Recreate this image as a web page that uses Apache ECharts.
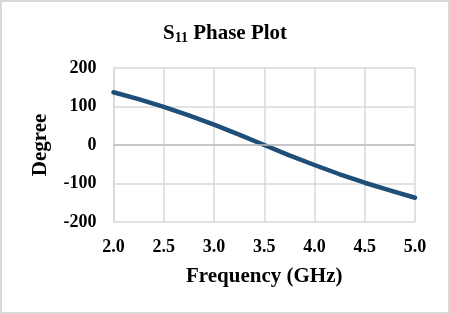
<!DOCTYPE html>
<html>
<head>
<meta charset="utf-8">
<script src="https://cdn.jsdelivr.net/npm/echarts@6/dist/echarts.min.js"></script>
<style>
html,body{margin:0;padding:0;background:#fff;}
#c{width:450px;height:314px;}
</style>
</head>
<body>
<div id="c"></div>
<script>
const frequency = [2.0, 2.25, 2.5, 2.75, 3.0, 3.25, 3.5, 3.75, 4.0, 4.25, 4.5, 4.75, 5.0];
const phase = [137, 119, 99, 77, 53, 27, 0, -27, -52, -76, -98, -118, -137];
const xTicks = { min: 2.0, max: 5.0, interval: 0.5 };
const yTicks = { min: -200, max: 200, interval: 100 };

const FONT = "'Liberation Serif','Times New Roman',serif";
const chart = echarts.init(document.getElementById('c'), null, {renderer: 'canvas'});
chart.setOption({
  animation: false,
  backgroundColor: '#fff',
  graphic: [{
    type: 'rect', shape: {x: 1, y: 1, width: 448, height: 312},
    style: {fill: 'none', stroke: '#d9d9d9', lineWidth: 2}, silent: true
  }],
  title: {
    text: '{m|S}{s|11}{m| Phase Plot}',
    left: 'center', top: 17,
    textStyle: {
      rich: {
        m: {fontFamily: FONT, fontWeight: 'bold', fontSize: 21, color: '#000'},
        s: {fontFamily: FONT, fontWeight: 'bold', fontSize: 14, color: '#000', verticalAlign: 'bottom', padding: [9, 0, 0, 0]}
      }
    }
  },
  grid: {left: 113.5, right: 35, top: 68, bottom: 92},
  xAxis: {
    type: 'value', min: xTicks.min, max: xTicks.max, interval: xTicks.interval,
    name: 'Frequency (GHz)', nameLocation: 'middle', nameGap: 44,
    nameTextStyle: {fontFamily: FONT, fontWeight: 'bold', fontSize: 21, color: '#000'},
    axisLine: {show: true, lineStyle: {color: '#d9d9d9', width: 1.5}},
    axisTick: {show: false},
    splitLine: {show: true, lineStyle: {color: '#d9d9d9', width: 1.5}},
    axisLabel: {fontFamily: FONT, fontWeight: 'bold', fontSize: 18, color: '#000', margin: 16,
      formatter: v => v.toFixed(1)}
  },
  yAxis: {
    type: 'value', min: yTicks.min, max: yTicks.max, interval: yTicks.interval,
    name: 'Degree', nameLocation: 'middle', nameGap: 62, nameRotate: 90,
    nameTextStyle: {fontFamily: FONT, fontWeight: 'bold', fontSize: 21, color: '#000'},
    axisLine: {show: true, lineStyle: {color: '#d9d9d9', width: 1.5}},
    axisTick: {show: false},
    splitLine: {show: true, lineStyle: {color: '#d9d9d9', width: 1.5}},
    axisLabel: {fontFamily: FONT, fontWeight: 'bold', fontSize: 18, color: '#000', margin: 17}
  },
  series: [{
    type: 'line',
    data: frequency.map((f, i) => [f, phase[i]]),
    smooth: false,
    showSymbol: false,
    lineStyle: {color: '#1f4e79', width: 4.5, join: 'round', cap: 'round'},
    markLine: {
      silent: true, symbol: 'none', label: {show: false},
      lineStyle: {color: '#bfbfbf', width: 1.5, type: 'solid'},
      data: [{yAxis: 0}]
    },
    z: 3
  }]
});
</script>
</body>
</html>
